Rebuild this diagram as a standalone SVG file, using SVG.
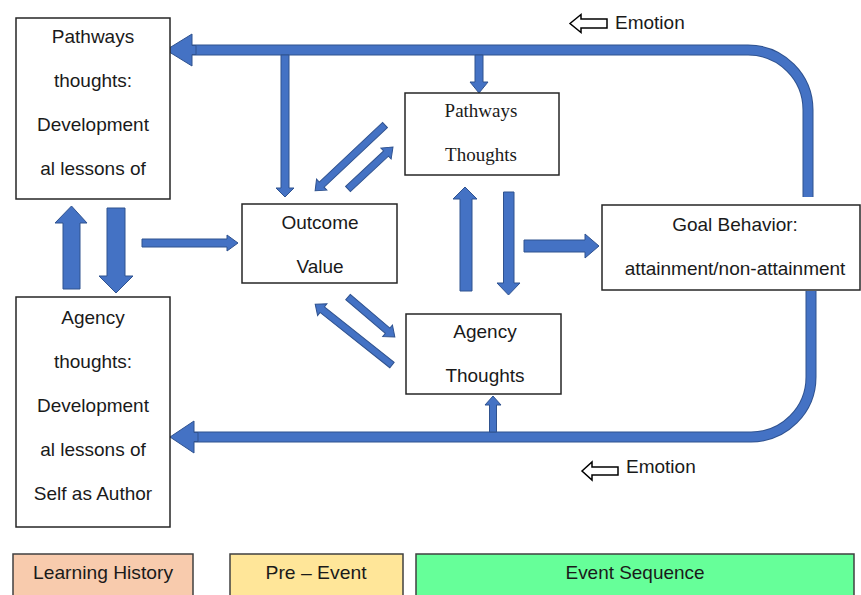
<svg xmlns="http://www.w3.org/2000/svg" width="861" height="595" viewBox="0 0 861 595">
<style>
.box{fill:#fff;stroke:#262626;stroke-width:1.5}
.t{font-family:"Liberation Sans",Arial,sans-serif;font-size:19px;fill:#1a1a1a;text-anchor:middle}
.ts{font-family:"Liberation Serif","Times New Roman",serif;font-size:19px;fill:#1a1a1a;text-anchor:middle}
.ba{fill:#4472C4;stroke:#2F528F;stroke-width:1}
.loopo{fill:none;stroke:#2F528F;stroke-width:11}
.loopi{fill:none;stroke:#4472C4;stroke-width:9}
.ho{fill:#fff;stroke:#000;stroke-width:1.5}
.leg{stroke:#404040;stroke-width:1.5}
.lt{font-family:"Liberation Sans",Arial,sans-serif;font-size:19px;fill:#1a1a1a;text-anchor:middle}
</style>
<rect width="861" height="595" fill="#fff"/>

<g id="connectors">
  <!-- top loop -->
  <path class="loopo" d="M808 197 L808 110 A60 60 0 0 0 748 50 L190 50"/>
  <path class="loopi" d="M808 197 L808 110 A60 60 0 0 0 748 50 L190 50"/>
  <polygon class="ba" points="166,50 192,34 192,45.5 196,45.5 196,54.5 192,54.5 192,66"/>
  <!-- down arrows from top loop -->
  <polygon class="ba" points="281,55 289,55 289,188 294,188 285,197 276,188 281,188"/>
  <polygon class="ba" points="475,55 483,55 483,82 488,82 479,93 470,82 475,82"/>
  <!-- bottom loop -->
  <path class="loopo" d="M811 291 L811 377 A60 60 0 0 1 751 437 L192 437"/>
  <path class="loopi" d="M811 291 L811 377 A60 60 0 0 1 751 437 L192 437"/>
  <polygon class="ba" points="170,437 194,421 194,432.5 198,432.5 198,441.5 194,441.5 194,453"/>
  <!-- up arrow to Agency Thoughts -->
  <polygon class="ba" points="489.5,432 496.5,432 496.5,405 501,405 493,396 485,405 489.5,405"/>
  <!-- left vertical pair -->
  <polygon class="ba" points="63,289 80,289 80,223 87,223 71.5,206 55,223 63,223"/>
  <polygon class="ba" points="107,208 125,208 125,276 133,276 116,293 99,276 107,276"/>
  <!-- arrow to Outcome Value -->
  <polygon class="ba" points="142,239 227,239 227,235 238,243 227,251 227,247 142,247"/>
  <!-- diagonals -->
  <polygon class="ba" transform="translate(385,125) rotate(136.7)" points="0,-3.5 87,-3.5 87,-7.5 96,0 87,7.5 87,3.5 0,3.5"/>
  <polygon class="ba" transform="translate(348,189) rotate(-43)" points="0,-3.5 52,-3.5 52,-7.5 61.5,0 52,7.5 52,3.5 0,3.5"/>
  <polygon class="ba" transform="translate(392,365) rotate(218.4)" points="0,-3.5 89,-3.5 89,-7.5 98,0 89,7.5 89,3.5 0,3.5"/>
  <polygon class="ba" transform="translate(348,297) rotate(40.4)" points="0,-3.5 52,-3.5 52,-7.5 61.5,0 52,7.5 52,3.5 0,3.5"/>
  <!-- vertical pair between Pathways Thoughts and Agency Thoughts -->
  <polygon class="ba" points="460,291 472,291 472,199 477,199 465,187 453,199 460,199"/>
  <polygon class="ba" points="503.5,192 514,192 514,283 520,283 508.5,295 497,283 503.5,283"/>
  <!-- arrow to Goal Behavior -->
  <polygon class="ba" points="524,240 585,240 585,234 599,246 585,258 585,252 524,252"/>
  <!-- Emotion hollow arrows -->
  <polygon class="ho" points="570,23.5 581,14.5 581,19 607,19 607,28 581,28 581,32.5"/>
  <polygon class="ho" points="582,471 592,462 592,467 618,467 618,475 592,475 592,480"/>
</g>

<g id="emotion-top"><text class="t" x="615" y="29" style="text-anchor:start">Emotion</text></g>
<g id="emotion-bottom"><text class="t" x="626" y="473" style="text-anchor:start">Emotion</text></g>

<g id="pathways-history">
  <rect class="box" x="16" y="18" width="154" height="181"/>
  <text class="t" x="93" y="43">Pathways</text>
  <text class="t" x="93" y="87">thoughts:</text>
  <text class="t" x="93" y="131">Development</text>
  <text class="t" x="93" y="175">al lessons of</text>
</g>

<g id="agency-history">
  <rect class="box" x="16" y="297" width="154" height="230"/>
  <text class="t" x="93" y="324">Agency</text>
  <text class="t" x="93" y="368">thoughts:</text>
  <text class="t" x="93" y="412">Development</text>
  <text class="t" x="93" y="456">al lessons of</text>
  <text class="t" x="93" y="500">Self as Author</text>
</g>

<g id="outcome-value">
  <rect class="box" x="242" y="204" width="155" height="79"/>
  <text class="t" x="320" y="229">Outcome</text>
  <text class="t" x="320" y="273">Value</text>
</g>

<g id="pathways-thoughts">
  <rect class="box" x="405" y="93" width="154" height="82"/>
  <text class="ts" x="481" y="117">Pathways</text>
  <text class="ts" x="481" y="161">Thoughts</text>
</g>

<g id="agency-thoughts">
  <rect class="box" x="406" y="314" width="155" height="80"/>
  <text class="t" x="485" y="338">Agency</text>
  <text class="t" x="485" y="382">Thoughts</text>
</g>

<g id="goal-behavior">
  <rect class="box" x="602" y="205" width="258" height="85"/>
  <text class="t" x="735" y="231">Goal Behavior:</text>
  <text class="t" x="735" y="275">attainment/non-attainment</text>
</g>

<g id="legend-learning-history">
  <rect class="leg" x="13" y="554" width="180" height="50" fill="#F8CBAD"/>
  <text class="lt" x="103" y="579" textLength="140" lengthAdjust="spacingAndGlyphs">Learning History</text>
</g>
<g id="legend-pre-event">
  <rect class="leg" x="230" y="554" width="173" height="50" fill="#FFE699"/>
  <text class="lt" x="316" y="579" textLength="101" lengthAdjust="spacingAndGlyphs">Pre – Event</text>
</g>
<g id="legend-event-sequence">
  <rect class="leg" x="416" y="554" width="438" height="50" fill="#66FF99"/>
  <text class="lt" x="635" y="579" textLength="139" lengthAdjust="spacingAndGlyphs">Event Sequence</text>
</g>
</svg>
